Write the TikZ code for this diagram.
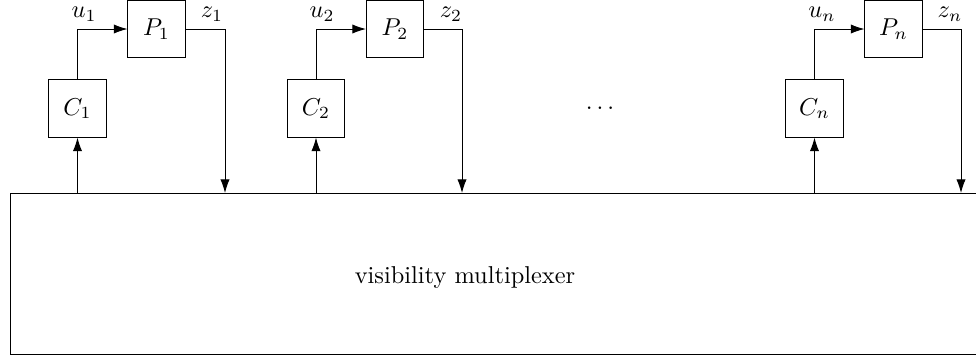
\documentclass[tikz,border=0pt]{standalone}
\usetikzlibrary{arrows.meta}
\begin{document}
\begin{tikzpicture}[x=0.41pt,y=-0.41pt,
  blk/.style={draw, minimum width=23.4pt, minimum height=23.4pt, inner sep=0pt},
  arr/.style={-{Latex[length=5.6pt,width=3.8pt]}},
  lbl/.style={inner sep=0pt}]
\useasboundingbox (0,0) rectangle (976,362);
\node[draw, minimum width=401.8pt, minimum height=66.4pt, inner sep=0pt] (V) at (500.5,274) {};
\node[lbl] (vt) at (465,278) {visibility multiplexer};
% block 1
\node[blk] (C1) at (77.5,108.5) {$C_1$};
\node[blk] (P1) at (156.5,29) {$P_1$};
\coordinate (d1) at (225,193);
\draw[arr] (C1.south |- V.north) -- (C1.south);
\draw[arr] (C1.north) |- (P1.west);
\draw[arr] (P1.east) -| (d1);
\node[lbl] (u1) at (84,14) {$u_1$};
\node[lbl] (z1) at (212,14) {$z_1$};
% block 2
\node[blk] (C2) at (316,108.5) {$C_2$};
\node[blk] (P2) at (395,29) {$P_2$};
\coordinate (d2) at (462,193);
\draw[arr] (C2.south |- V.north) -- (C2.south);
\draw[arr] (C2.north) |- (P2.west);
\draw[arr] (P2.east) -| (d2);
\node[lbl] (u2) at (322,14) {$u_2$};
\node[lbl] (z2) at (451,14) {$z_2$};
% dots
\node[lbl] (dots) at (600,108) {$\dots$};
% block n
\node[blk] (Cn) at (814.5,108.5) {$C_n$};
\node[blk] (Pn) at (893.5,29) {$P_n$};
\coordinate (dn) at (961,193);
\draw[arr] (Cn.south |- V.north) -- (Cn.south);
\draw[arr] (Cn.north) |- (Pn.west);
\draw[arr] (Pn.east) -| (dn);
\node[lbl] (un) at (822,14) {$u_n$};
\node[lbl] (zn) at (950,14) {$z_n$};
\end{tikzpicture}
\end{document}
